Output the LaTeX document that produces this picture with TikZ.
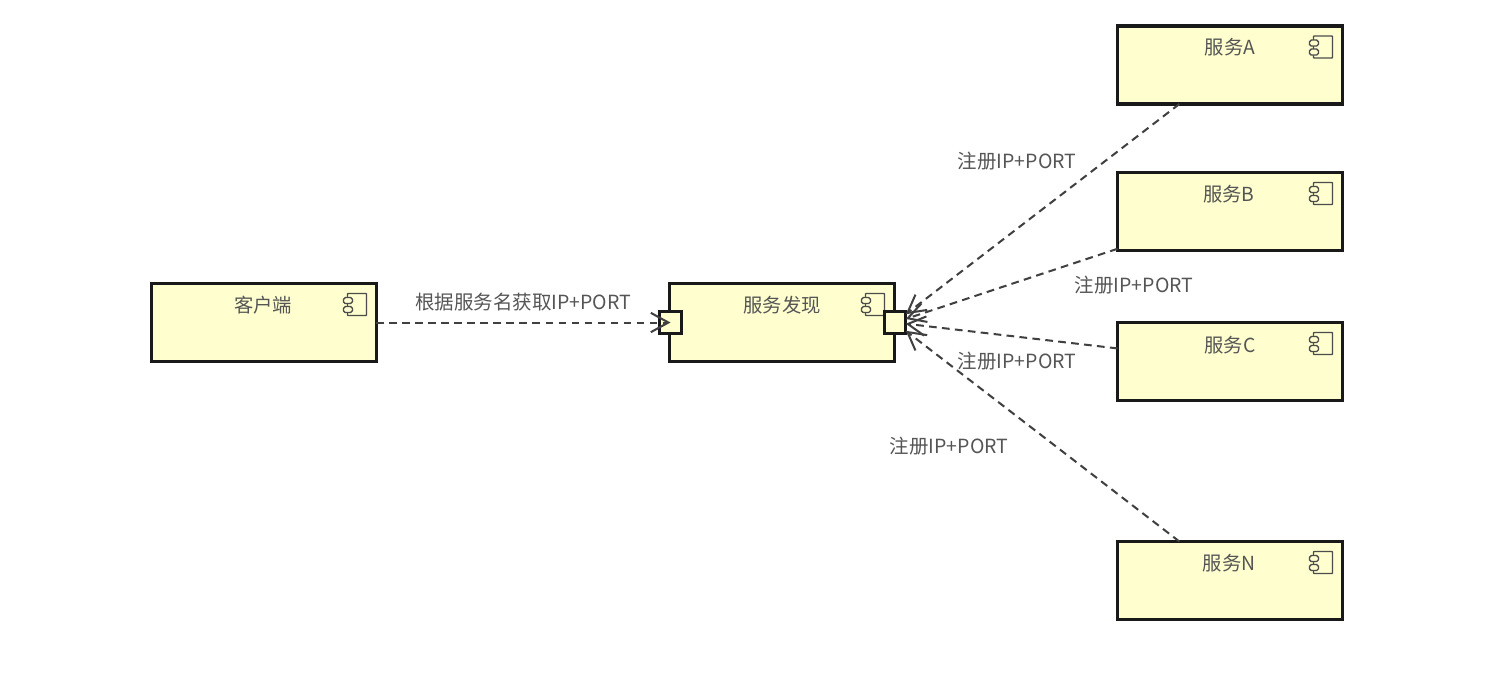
\documentclass[tikz,border=0pt]{standalone}
\usepackage{fontspec}
\setmainfont{Noto Sans CJK SC}
\usetikzlibrary{arrows.meta, positioning}
\definecolor{compfill}{HTML}{FEFECE}
\definecolor{comptext}{HTML}{555555}
\tikzset{
	compbox/.style={draw=black!90, fill=compfill, line width=1.9pt, inner sep=0pt, outer sep=0pt, minimum width=4.5cm, minimum height=1.56cm},
	compport/.style={draw=black!90, fill=compfill, line width=1.7pt, inner sep=0pt, outer sep=0pt, minimum size=0.43cm},
	complabel/.style={text=comptext, font=\fontsize{11}{12}\selectfont, inner sep=0pt},
	linklabel/.style={text=comptext, font=\fontsize{11.1}{12}\selectfont, inner sep=0pt},
	dep/.style={draw=black!75, line width=1.15pt, dash pattern=on 4.4pt off 3pt, -{Straight Barb[length=10pt,width=11pt,line width=1.15pt]}}
}
\newcommand{\compicon}[1]{
	\draw [black!70, line width=0.8pt, fill=compfill, rounded corners=0.4pt] ([shift={(-29,10)}]#1.north east) rectangle ([shift={(-10,32)}]#1.north east);
	\draw [black!70, line width=0.8pt, fill=compfill, rounded corners=1pt] ([shift={(-33,14)}]#1.north east) rectangle ([shift={(-24,20)}]#1.north east);
	\draw [black!70, line width=0.8pt, fill=compfill, rounded corners=1pt] ([shift={(-33,23)}]#1.north east) rectangle ([shift={(-24,29)}]#1.north east);
}
\begin{document}
\begin{tikzpicture}[x=0.02cm, y=-0.02cm]
	\useasboundingbox (0,0) rectangle (1492,698);

	\node [compbox] (client) at (264,322.5) {};
	\node [compbox] (discovery) at (782,322.5) {};
	\node [compbox] (svcA) at (1230,65) {};
	\node [compbox] (svcB) at (1230,211.5) {};
	\node [compbox] (svcC) at (1230,361.5) {};
	\node [compbox] (svcN) at (1230,580.5) {};

	\compicon{client}
	\compicon{discovery}
	\compicon{svcA}
	\compicon{svcB}
	\compicon{svcC}
	\compicon{svcN}

	\node [complabel] (clientText) at (263,305.5) {客户端};
	\node [complabel] (discoveryText) at (782,305.5) {服务发现};
	\node [complabel] (svcAText) at (1230,47.5) {服务A};
	\node [complabel] (svcBText) at (1229,194.5) {服务B};
	\node [complabel] (svcCText) at (1230,345.5) {服务C};
	\node [complabel] (svcNText) at (1229,563.5) {服务N};

	\node [compport] (portL) at (670.5,322.5) {};
	\node [compport] (portR) at (895,322.5) {};

	\draw [dep] (client) -- (portL.center);
	\draw [dep] (svcA) -- (portR);
	\draw [dep] (svcB) -- (portR);
	\draw [dep] (svcC) -- (portR);
	\draw [dep] (svcN) -- (portR);

	\node [linklabel] (queryText) at (523,302) {根据服务名获取IP+PORT};
	\node [linklabel] (regAText) at (1017,161) {注册IP+PORT};
	\node [linklabel] (regBText) at (1134,285) {注册IP+PORT};
	\node [linklabel] (regCText) at (1017,361) {注册IP+PORT};
	\node [linklabel] (regNText) at (949,446) {注册IP+PORT};
\end{tikzpicture}
\end{document}
